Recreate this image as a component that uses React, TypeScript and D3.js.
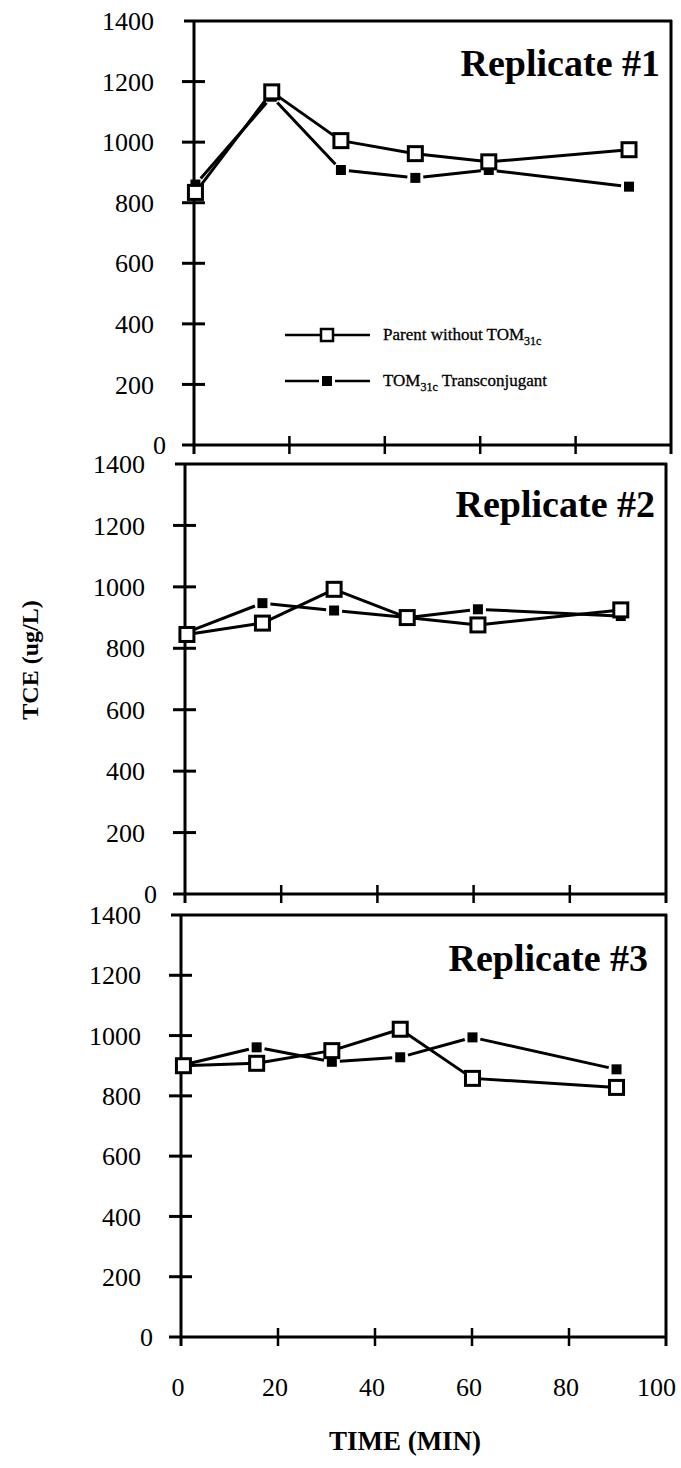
import React from 'react';
import * as d3 from 'd3';

const yTickValues = [0, 200, 400, 600, 800, 1000, 1200, 1400];
const xTickValues = [0, 20, 40, 60, 80, 100];
const panelTitles = ['Replicate #1', 'Replicate #2', 'Replicate #3'];

const rep1Time = [0.3, 16.3, 30.8, 46.4, 61.8, 91.2];
const rep1Parent = [834, 1166, 1005, 962, 935, 975];
const rep1Trans = [860, 1150, 908, 882, 908, 853];

const rep2Time = [0.4, 16.1, 31, 46.2, 60.9, 90.6];
const rep2Parent = [845, 882, 992, 900, 876, 925];
const rep2Trans = [852, 947, 923, 900, 927, 905];

const rep3Time = [0.5, 15.6, 31.1, 45.2, 60.1, 89.8];
const rep3Parent = [900, 908, 950, 1021, 858, 828];
const rep3Trans = [903, 961, 913, 928, 994, 888];

const panelData = [
  { time: rep1Time, parent: rep1Parent, trans: rep1Trans },
  { time: rep2Time, parent: rep2Parent, trans: rep2Trans },
  { time: rep3Time, parent: rep3Parent, trans: rep3Trans },
];

// layout (pixels)
const layout = [
  { x0: 194, x1: 671, yTop: 21, yBot: 445, titleX: 660, titleY: 76 },
  { x0: 185, x1: 666, yTop: 464, yBot: 894, titleX: 655, titleY: 517 },
  { x0: 181, x1: 666, yTop: 915, yBot: 1337, titleX: 648, titleY: 971 },
];

const FONT = '"Liberation Serif", "Times New Roman", serif';
const SW = 3;

function shorten(p: [number, number], q: [number, number], gap: number) {
  const dx = q[0] - p[0];
  const dy = q[1] - p[1];
  const L = Math.hypot(dx, dy);
  if (L <= 2 * gap) return null;
  return [p[0] + (dx / L) * gap, p[1] + (dy / L) * gap, q[0] - (dx / L) * gap, q[1] - (dy / L) * gap];
}

function Panel({ idx }: { idx: number }) {
  const L = layout[idx];
  const d = panelData[idx];
  const x = d3.scaleLinear().domain([0, 100]).range([L.x0, L.x1]);
  const y = d3.scaleLinear().domain([0, 1400]).range([L.yBot, L.yTop]);
  const line = d3.line<[number, number]>().x((p) => x(p[0])).y((p) => y(p[1]));
  const parentPts: [number, number][] = d.time.map((t, i) => [t, d.parent[i]]);
  const transPts: [number, number][] = d.time.map((t, i) => [t, d.trans[i]]);
  const transPx = transPts.map((p) => [x(p[0]), y(p[1])] as [number, number]);
  const isLast = idx === 2;
  return (
    <g>
      {/* frame */}
      <line x1={x(0) - 10} x2={x(100) + 1} y1={y(1400)} y2={y(1400)} stroke="#000" strokeWidth={SW} />
      <line x1={x(100)} x2={x(100)} y1={y(1400) - 1} y2={y(0) + 9} stroke="#000" strokeWidth={SW} />
      <line x1={x(0)} x2={x(0)} y1={y(1400)} y2={y(0) + 9} stroke="#000" strokeWidth={SW} />
      <line x1={x(0) - 12} x2={x(100)} y1={y(0)} y2={y(0)} stroke="#000" strokeWidth={SW} />
      {yTickValues.filter((v) => v > 0 && v < 1400).map((v) => (
        <line key={'yt' + v} x1={x(0) - 12} x2={x(0) + 11} y1={y(v)} y2={y(v)} stroke="#000" strokeWidth={SW} />
      ))}
      {xTickValues.filter((v) => v > 0 && v < 100).map((v) => (
        <line key={'xt' + v} x1={x(v)} x2={x(v)} y1={y(0) - 9} y2={y(0) + 9} stroke="#000" strokeWidth={2.5} />
      ))}
      {/* y tick labels */}
      {yTickValues.map((v) => (
        <text
          key={'yl' + v}
          x={v === 0 ? x(0) - 28 : x(0) - 40}
          y={y(v)}
          dy="0.35em"
          textAnchor="end"
          fontFamily={FONT}
          fontSize={26}
          fill="#000"
        >
          {v}
        </text>
      ))}
      {isLast &&
        xTickValues.map((v) => (
          <text
            key={'xl' + v}
            x={v === 100 ? x(v) + 10 : x(v) - 3}
            y={1387}
            dy="0.35em"
            textAnchor={v === 100 ? 'end' : 'middle'}
            fontFamily={FONT}
            fontSize={26}
            fill="#000"
          >
            {v}
          </text>
        ))}
      {/* title */}
      <text x={L.titleX} y={L.titleY} textAnchor="end" fontFamily={FONT} fontWeight="bold" fontSize={38} fill="#000">
        {panelTitles[idx]}
      </text>
      {/* transconjugant series: segments with gaps */}
      {transPx.slice(1).map((q, i) => {
        const s = shorten(transPx[i], q, 8);
        if (!s) return null;
        return <line key={'ts' + i} x1={s[0]} y1={s[1]} x2={s[2]} y2={s[3]} stroke="#000" strokeWidth={SW} />;
      })}
      {transPx.map((p, i) => (
        <rect key={'tm' + i} x={p[0] - 5} y={p[1] - 5} width={10} height={10} fill="#000" />
      ))}
      {/* parent series */}
      <path d={line(parentPts) || ''} fill="none" stroke="#000" strokeWidth={SW} strokeLinejoin="round" />
      {parentPts.map((p, i) => (
        <rect key={'pm' + i} x={x(p[0]) - 7} y={y(p[1]) - 7} width={14} height={14} fill="#fff" stroke="#000" strokeWidth={3} />
      ))}
      {idx === 0 && <Legend />}
    </g>
  );
}

function Legend() {
  const r1 = 335;
  const r2 = 381;
  const lx0 = 285;
  const lx1 = 370;
  const mx = 327;
  const tx = 383;
  return (
    <g>
      <line x1={lx0} x2={lx1} y1={r1} y2={r1} stroke="#000" strokeWidth={2.5} />
      <rect x={mx - 6} y={r1 - 6} width={12} height={12} fill="#fff" stroke="#000" strokeWidth={2.5} />
      <text x={tx} y={r1} dy="0.3em" fontFamily={FONT} fontSize={17} fill="#000" stroke="#000" strokeWidth={0.3}>
        Parent without TOM
        <tspan dy={5} fontSize={12}>31c</tspan>
      </text>
      <line x1={lx0} x2={mx - 8} y1={r2} y2={r2} stroke="#000" strokeWidth={2.5} />
      <line x1={mx + 8} x2={lx1} y1={r2} y2={r2} stroke="#000" strokeWidth={2.5} />
      <rect x={mx - 5} y={r2 - 5} width={10} height={10} fill="#000" />
      <text x={tx} y={r2} dy="0.3em" fontFamily={FONT} fontSize={17} fill="#000" stroke="#000" strokeWidth={0.3}>
        TOM
        <tspan dy={5} fontSize={12}>31c</tspan>
        <tspan dy={-5}> Transconjugant</tspan>
      </text>
    </g>
  );
}

export default function App() {
  return (
    <svg
      width={681}
      height={1468}
      viewBox="0 0 681 1468"
      style={{ position: 'absolute', left: 0, top: 0, background: '#fff' }}
    >
      <rect x={0} y={0} width={681} height={1468} fill="#fff" />
      {[0, 1, 2].map((i) => (
        <Panel key={i} idx={i} />
      ))}
      <text
        transform="translate(30,660) rotate(-90)"
        textAnchor="middle"
        dy="0.35em"
        fontFamily={FONT}
        fontWeight="bold"
        fontSize={24}
        fill="#000"
      >
        TCE (ug/L)
      </text>
      <text x={405} y={1450} textAnchor="middle" fontFamily={FONT} fontWeight="bold" fontSize={27} fill="#000">
        TIME (MIN)
      </text>
    </svg>
  );
}
